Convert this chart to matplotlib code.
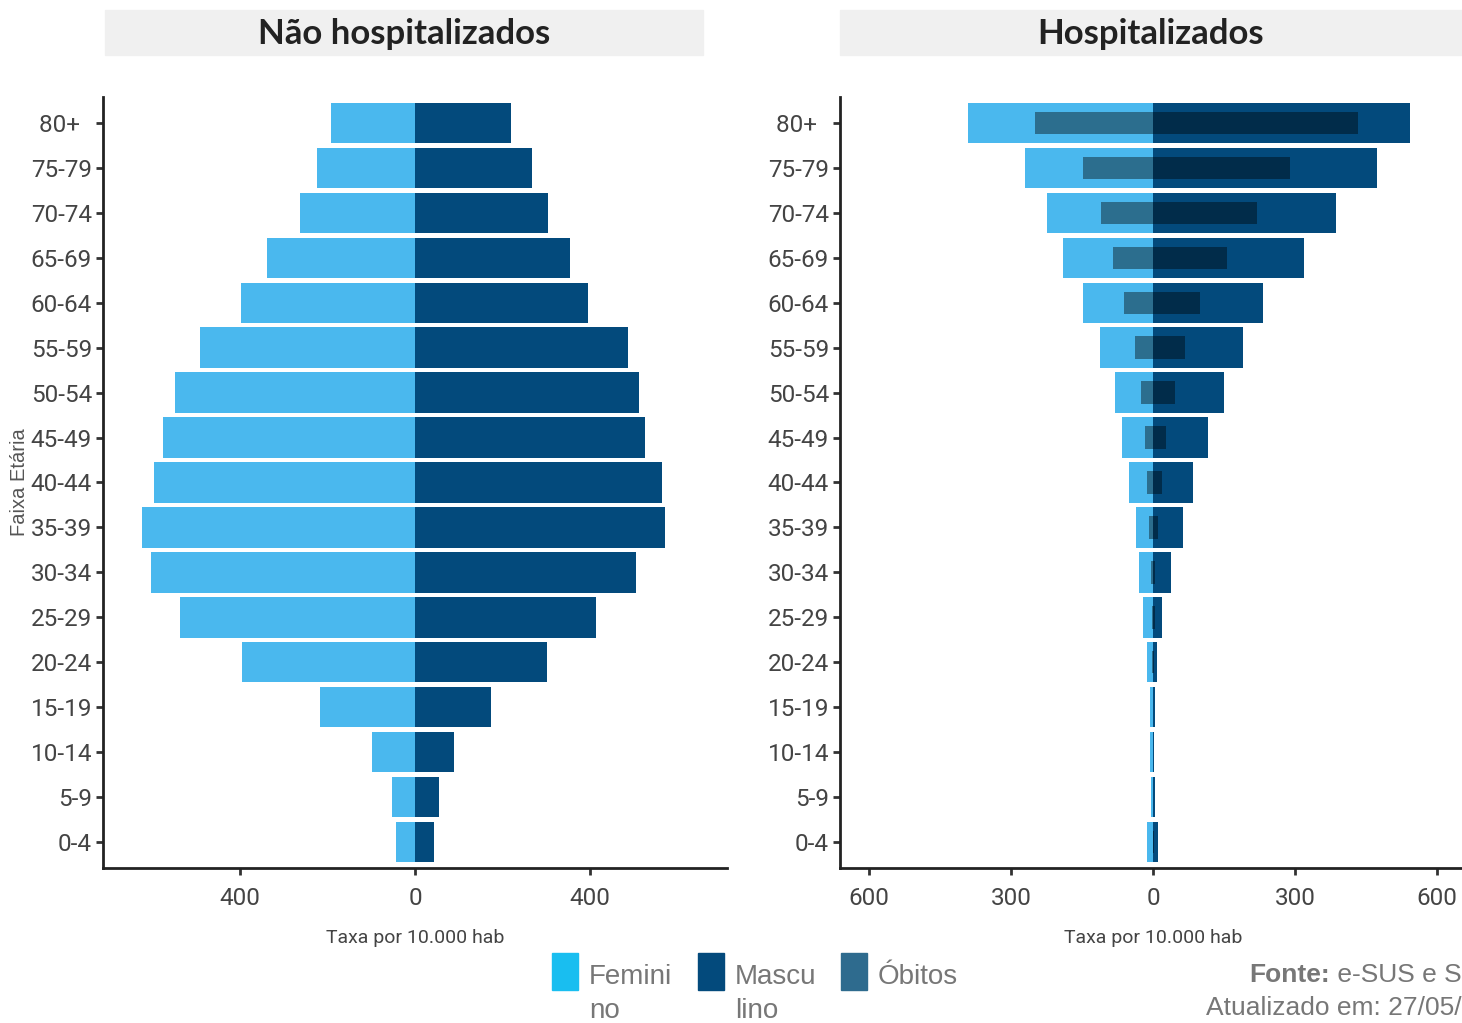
import matplotlib
matplotlib.use('Agg')
import matplotlib.pyplot as plt
from matplotlib.patches import Rectangle
import numpy as np

# Faixas etárias (de baixo para cima)
faixas = ['0-4', '5-9', '10-14', '15-19', '20-24', '25-29', '30-34', '35-39',
          '40-44', '45-49', '50-54', '55-59', '60-64', '65-69', '70-74', '75-79', '80+  ']

# Não hospitalizados - taxa por 10.000 hab
nh_fem = [43, 53, 98, 217, 395, 537, 603, 624, 597, 576, 549, 491, 398, 338, 263, 224, 192]
nh_masc = [43, 55, 89, 174, 302, 414, 505, 571, 565, 526, 512, 487, 395, 354, 304, 267, 219]

# Hospitalizados - taxa por 10.000 hab
h_fem = [13, 4, 6, 6, 13, 21, 30, 36, 51, 65, 80, 112, 148, 190, 224, 270, 391]
h_masc = [11, 4, 2, 4, 8, 19, 38, 63, 85, 116, 150, 190, 232, 319, 387, 473, 543]

# Óbitos entre hospitalizados
ob_fem = [1, 0.5, 0.5, 0.5, 2, 2, 4, 8, 13, 17, 25, 38, 61, 85, 110, 148, 249]
ob_masc = [1, 0.5, 0.5, 0.5, 2, 4, 4, 11, 19, 27, 46, 68, 99, 156, 220, 289, 433]

titulos = ['Não hospitalizados', 'Hospitalizados']

cor_fem = '#4AB8EE'
cor_masc = '#034A7C'
cor_ob = '#2E6B8E'
fonte_eixo = ['Roboto', 'DejaVu Sans']
fonte_txt = ['Liberation Sans', 'DejaVu Sans']

fig = plt.figure(figsize=(14.62, 10.23), dpi=100)
ax1 = fig.add_axes([0.0705, 0.1515, 0.4268, 0.7537])
ax2 = fig.add_axes([0.5746, 0.1515, 0.4282, 0.7537])

y = np.arange(len(faixas))

def estilo(ax, xlim, xticks):
    ax.set_xlim(-xlim, xlim)
    ax.set_ylim(-0.58, len(faixas) - 0.42)
    ax.set_yticks(y)
    ax.set_yticklabels(faixas, family=fonte_eixo, fontsize=17.5, color='#444444')
    ax.set_xticks(xticks)
    ax.set_xticklabels([str(abs(v)) for v in xticks], family=fonte_eixo, fontsize=17.5, color='#444444')
    for s in ['top', 'right']:
        ax.spines[s].set_visible(False)
    for s in ['left', 'bottom']:
        ax.spines[s].set_linewidth(2)
        ax.spines[s].set_color('#222222')
    ax.tick_params(axis='y', length=5, width=2, color='#333333', pad=3)
    ax.tick_params(axis='x', length=5, width=2, color='#333333', pad=9)
    ax.set_xlabel('Taxa por 10.000 hab', family=fonte_eixo, fontsize=14, color='#444444', labelpad=13)

# Painel esquerdo
ax1.barh(y, [-v for v in nh_fem], height=0.9, color=cor_fem)
ax1.barh(y, nh_masc, height=0.9, color=cor_masc)
estilo(ax1, 713, [-400, 0, 400])
ax1.set_ylabel('Faixa Etária', family=fonte_txt, fontsize=14.5, color='#555555')
ax1.yaxis.set_label_coords(-0.118, 0.5)

# Painel direito
ax2.barh(y, [-v for v in h_fem], height=0.9, color=cor_fem)
ax2.barh(y, h_masc, height=0.9, color=cor_masc)
ax2.barh(y, [-v for v in ob_fem], height=0.5, color='black', alpha=0.4)
ax2.barh(y, ob_masc, height=0.5, color='black', alpha=0.4)
estilo(ax2, 661, [-600, -300, 0, 300, 600])

# Títulos com caixa cinza
for (x0, x1), tit in zip([(105, 703), (840, 1462)], titulos):
    fig.patches.append(Rectangle((x0 / 1462, 1 - 55 / 1023), (x1 - x0) / 1462, 45 / 1023,
                                 transform=fig.transFigure, color='#F0F0F0', zorder=0))
    fig.text((x0 + x1) / 2 / 1462, 1 - 34 / 1023, tit, ha='center', va='center',
             fontsize=25, fontweight='bold', family=['Lato', 'DejaVu Sans'], color='#222222')

# Legenda
leg = [('Femini\nno', '#19BEF0', 552), ('Mascu\nlino', cor_masc, 698), ('Óbitos', cor_ob, 841)]
for txt, cor, xp in leg:
    fig.patches.append(Rectangle((xp / 1462, 1 - 990 / 1023), 26 / 1462, 37 / 1023,
                                 transform=fig.transFigure, color=cor))
    fig.text((xp + 37) / 1462, 1 - 964 / 1023, txt, ha='left', va='top', fontsize=20,
             family=fonte_txt, color='#777777', linespacing=1.42)

# Fonte
t = fig.text(1249 / 1462, 1 - 982 / 1023, 'Fonte:', ha='left', va='baseline', fontsize=19,
             fontweight='bold', family=fonte_txt, color='#777777')
ax2.annotate(' e-SUS e SIVEP-Gripe', xy=(1, 0), xycoords=t, va='bottom', fontsize=19,
             family=fonte_txt, color='#777777', annotation_clip=False)
fig.text(1206 / 1462, 1 - 1015 / 1023, 'Atualizado em: 27/05/2020', ha='left', va='baseline',
         fontsize=19, family=fonte_txt, color='#777777')

fig.savefig('out.png', dpi=100)
